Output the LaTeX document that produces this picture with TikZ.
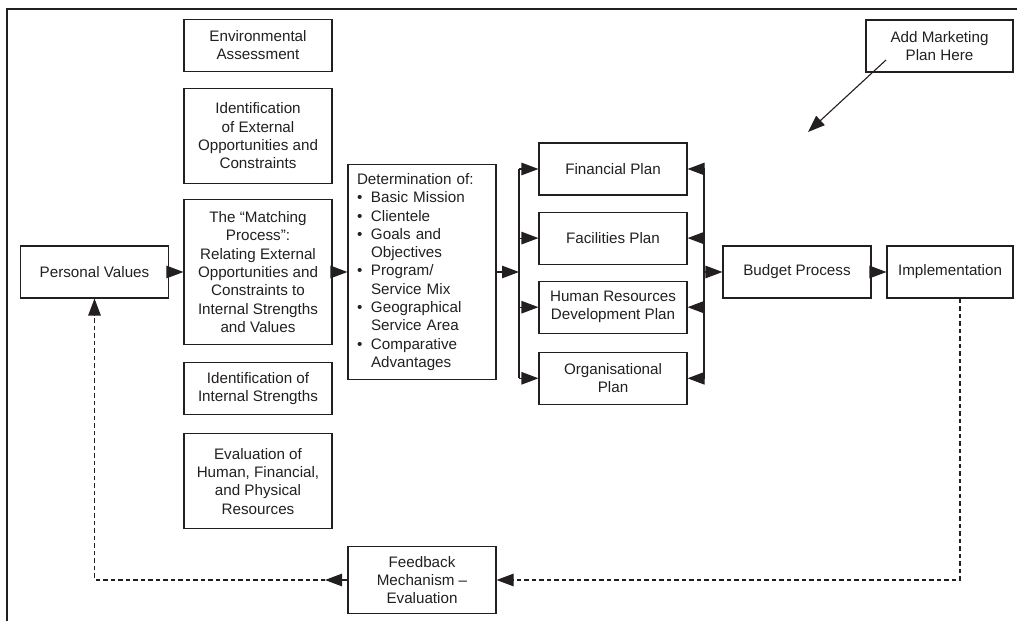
\documentclass[tikz,border=0pt]{standalone}
\usepackage{fontspec}
\setmainfont{Liberation Sans}
\usetikzlibrary{positioning,arrows.meta}
\definecolor{ink}{HTML}{231F20}
\newcommand{\bul}{\makebox[14pt][l]{\textbullet}}
\newcommand{\ind}{\hspace*{14pt}}

\begin{document}
\begin{tikzpicture}[x=1pt, y=1pt, node distance=16pt, line width=1.1pt, ink,
        >={Triangle[length=17pt,width=12.5pt]},
        box/.style = {draw, rectangle, minimum width=148pt, minimum height=52pt, inner sep=0pt,
            align=center, font=\fontsize{15.2}{18.3}\selectfont},
        dashline/.style = {dash pattern=on 4.5pt off 3pt}]
        \useasboundingbox (0,0) rectangle (1017,621);
        \draw (7,0) -- (7,612) -- (1017,612);

        \node[box] (pv) at (94.5,349) {Personal Values};
        \node[box, minimum height=145pt] (mat) at (258,349) {The “Matching\\Process”:\\Relating External\\Opportunities and\\Constraints to\\Internal Strengths\\and Values};
        \node[box, minimum height=95pt] (ext) [above=15pt of mat] {Identification\\of External\\Opportunities and\\Constraints};
        \node[box] (env) [above=of ext] {Environmental\\Assessment};
        \node[box] (ints) [below=17pt of mat] {Identification of\\Internal Strengths};
        \node[box, minimum height=95pt] (evl) [below=18pt of ints] {Evaluation of\\Human, Financial,\\and Physical\\Resources};

        \node[box, minimum height=215pt, align=left, text width=130pt] (det) at (422,349) {Determination of:\\
            \bul Basic Mission\\
            \bul Clientele\\
            \bul Goals and\\
            \ind Objectives\\
            \bul Program/\\
            \ind Service Mix\\
            \bul Geographical\\
            \ind Service Area\\
            \bul Comparative\\
            \ind Advantages};

        \node[box] (fin) at (613,452) {Financial Plan};
        \node[box] (fac) [below=of fin] {Facilities Plan};
        \node[box] (hr) [below=of fac] {Human Resources\\Development Plan};
        \node[box] (org) [below=18pt of hr] {Organisational\\Plan};

        \node[box] (bud) at (797,349) {Budget Process};
        \node[box, minimum width=126pt] (imp) at (950,349) {Implementation};
        \node[box, minimum width=147pt] (mkt) at (939.5,575) {Add Marketing\\Plan Here};
        \node[box, minimum height=67pt] (fb) at (422,41) {Feedback\\Mechanism --\\Evaluation};

        \coordinate (lbus) at (519,349);
        \coordinate (rbus) at (704,349);
        \coordinate (mktfrom) at (886,561);
        \coordinate (mkttip) at (808,489);
        \coordinate (fbtip) at (325,41);

        \draw[->] (pv) -- (mat);
        \draw[->] (mat) -- (det);
        \draw[->] (det) -- (lbus);
        \draw (lbus |- fin) -- (lbus |- org);
        \draw (rbus |- fin) -- (rbus |- org);
        \foreach \p in {fin,fac,hr,org} {
            \draw[->] (lbus |- \p) -- (\p);
            \draw[->] (rbus |- \p) -- (\p);
        }
        \draw[->] (rbus) -- (bud);
        \draw[->] (bud) -- (imp);
        \draw[->] (mktfrom) -- (mkttip);

        % feedback loop
        \draw[->, dashline] ([xshift=10pt]imp.south) |- (fb);
        \draw[->] (fb) -- (fbtip);
        \draw[->, dashline] (fbtip) -| (pv);
    \end{tikzpicture}
\end{document}
